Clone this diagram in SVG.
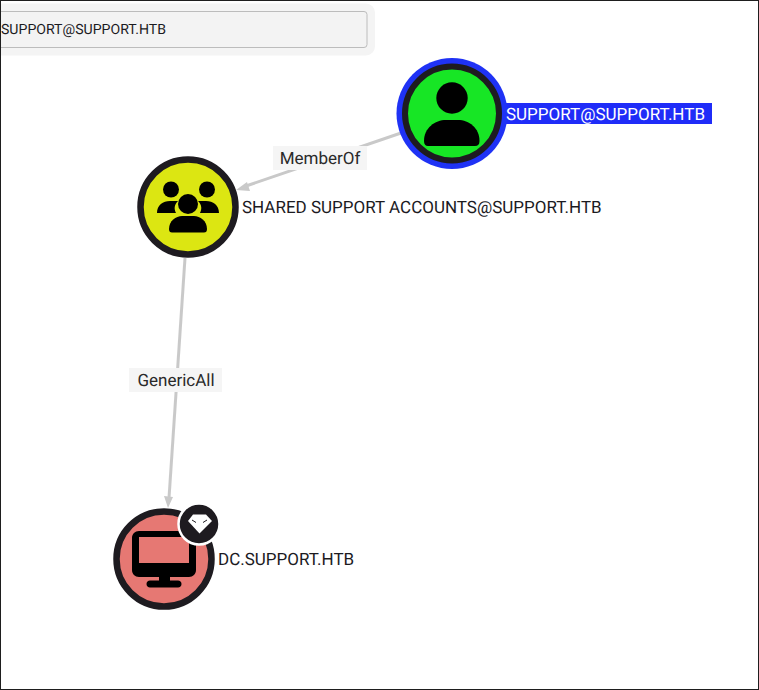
<svg xmlns="http://www.w3.org/2000/svg" width="759" height="690" viewBox="0 0 759 690">
<style>
text{text-rendering:geometricPrecision}
.t{font-family:Roboto,"Liberation Sans",sans-serif;font-size:17px;fill:#1c1b1f}
.l{font-family:Roboto,"Liberation Sans",sans-serif;font-size:17px;fill:#2a2a2a;text-anchor:middle}
.e{fill:none;stroke:#c9c9c9;stroke-width:3}
.a{fill:#c9c9c9}
.lb{fill:#f5f5f5}
.r{stroke:#1e1b20;stroke-width:6.500}
</style>
<rect width="759" height="690" fill="#ffffff"/>
<g id="search">
<rect x="-20" y="3.500" width="395" height="52" rx="9" fill="#f4f4f4"/>
<rect x="-20" y="11.500" width="387" height="36" rx="3" fill="#f3f3f3" stroke="#bcbcbc" stroke-width="1"/>
<text class="t" x="1" y="34" style="font-size:14.100px">SUPPORT@SUPPORT.HTB</text>
</g>
<g id="connectors">
<path class="e" d="M401 133L246 186"/>
<polygon class="a" points="236,190 247,182 250,191"/>
<path class="e" d="M185 258L169 498"/>
<polygon class="a" points="168,508 164,496 173,497"/>
<rect class="lb" x="273" y="146" width="94" height="24"/>
<text class="l" x="320" y="164">MemberOf</text>
<rect class="lb" x="129" y="368" width="93" height="24"/>
<text class="l" x="176" y="386">GenericAll</text>
</g>
<g id="node-support">
<rect x="503" y="103" width="209" height="21" fill="#1f2cf8"/>
<circle cx="452" cy="113.500" r="55.500" fill="#1f32f5"/>
<circle cx="452" cy="113.500" r="47" fill="#17e625" stroke="#1e1b20" stroke-width="6"/>
<circle cx="452" cy="98" r="15.700"/>
<path d="M424 141C424 128 435 120 446 120H458C469 120 479.500 128 479.500 141C479.500 144.500 478 146 475 146H428C425.500 146 424 144.500 424 141Z"/>
<text class="t" x="506" y="120" style="fill:#ffffff">SUPPORT@SUPPORT.HTB</text>
</g>
<g id="node-group">
<circle class="r" cx="188" cy="207" r="47.500" fill="#dce612"/>
<circle cx="171" cy="189.500" r="8"/>
<circle cx="207" cy="189.500" r="8"/>
<path d="M157 213C157 205 163 201 170 201H178C174 205 174 209 176 213ZM219 213C219 205 213 201 206 201H198C202 205 202 209 200 213Z"/>
<circle cx="188" cy="204" r="10"/>
<path d="M169 229C169 221 176 216 182 216H194C200 216 207 221 207 229C207 231.500 206 232.500 204 232.500H172C170 232.500 169 231.500 169 229Z"/>
<text class="t" x="242" y="213">SHARED SUPPORT ACCOUNTS@SUPPORT.HTB</text>
</g>
<g id="node-dc">
<circle class="r" cx="164" cy="559" r="47.500" fill="#e67873"/>
<path fill-rule="evenodd" d="M139 531H189C193 531 196 534 196 538V570C196 574 193 577 189 577H170V580.500H178C180 580.500 181.500 582 181.500 584C181.500 586 180 587.500 178 587.500H150C148 587.500 146.500 586 146.500 584C146.500 582 148 580.500 150 580.500H159V577H139C135 577 132 574 132 570V538C132 534 135 531 139 531ZM139 537V563H189V537Z"/>
<text class="t" x="218" y="565">DC.SUPPORT.HTB</text>
<circle cx="199" cy="524" r="20.500" fill="#1e1b20" stroke="#ffffff" stroke-width="2.500"/>
<path d="M193 514.500H206L212 521L199.500 533.500L188 521Z" fill="#ffffff"/>
<path d="M192 520L196 522.500M207 520L203 522.500" stroke="#1e1b20" stroke-width="1" fill="none"/>
</g>
<rect x="0.500" y="0.500" width="758" height="689" fill="none" stroke="#1e1e1e" stroke-width="1"/>
</svg>
